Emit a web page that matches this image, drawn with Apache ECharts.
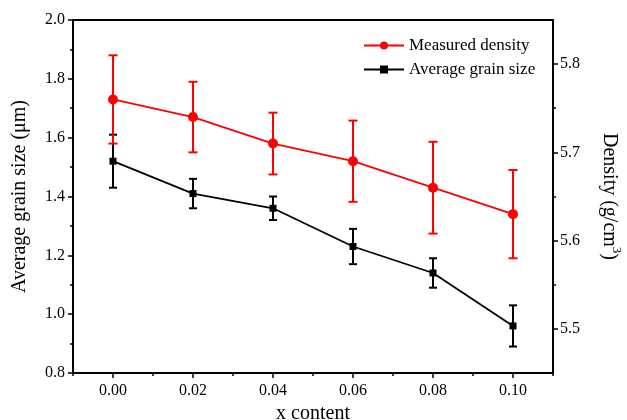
<!DOCTYPE html>
<html>
<head>
<meta charset="utf-8">
<script src="https://cdn.jsdelivr.net/npm/echarts@6/dist/echarts.min.js"></script>
<style>html,body{margin:0;padding:0;background:#fff;}#c{width:627px;height:420px;}</style>
</head>
<body>
<div id="c"></div>
<script>
const xContent = [0.00, 0.02, 0.04, 0.06, 0.08, 0.10];
const density = [5.76, 5.74, 5.71, 5.69, 5.66, 5.63];
const densityErr = [0.05, 0.04, 0.035, 0.046, 0.052, 0.05];
const grainSize = [1.52, 1.41, 1.36, 1.23, 1.14, 0.96];
const grainErr = [0.09, 0.05, 0.04, 0.06, 0.05, 0.07];
const xTicks = [0.00, 0.02, 0.04, 0.06, 0.08, 0.10];
const xMinorTicks = [-0.01, 0.01, 0.03, 0.05, 0.07, 0.09, 0.11];
const densityTicks = [5.5, 5.6, 5.7, 5.8];
const densityMinorTicks = [5.55, 5.65, 5.75];

const FONT = "'Liberation Serif', 'Times New Roman', serif";
const RED = '#ff0000';
const BLACK = '#000000';

function errData(vals, errs) {
  return xContent.map((x, i) => [x, vals[i] - errs[i], vals[i] + errs[i]]);
}
function errRender(color, half) {
  return function (params, api) {
    const x = api.value(0);
    const lo = api.coord([x, api.value(1)]);
    const hi = api.coord([x, api.value(2)]);
    const st = { stroke: color, lineWidth: 2 };
    return {
      type: 'group',
      children: [
        { type: 'line', shape: { x1: lo[0], y1: lo[1], x2: hi[0], y2: hi[1] }, style: st },
        { type: 'line', shape: { x1: lo[0] - half, y1: lo[1], x2: lo[0] + half, y2: lo[1] }, style: st },
        { type: 'line', shape: { x1: hi[0] - half, y1: hi[1], x2: hi[0] + half, y2: hi[1] }, style: st }
      ]
    };
  };
}

const axisLine = { show: true, onZero: false, lineStyle: { color: BLACK, width: 2 } };
const noLine = { show: false, onZero: false };

const chart = echarts.init(document.getElementById('c'));
chart.setOption({
  animation: false,
  backgroundColor: '#fff',
  textStyle: { fontFamily: FONT },
  grid: { left: 73, right: 74, top: 20, bottom: 47, show: true, borderColor: BLACK, borderWidth: 2, outerBoundsMode: 'none', containLabel: false },
  legend: {
    orient: 'vertical', left: 363, top: 37, padding: 0, itemWidth: 40, itemHeight: 10, itemGap: 7,
    textStyle: { fontFamily: FONT, fontSize: 17, color: BLACK },
    data: ['Measured density', 'Average grain size']
  },
  xAxis: [
    {
      type: 'value', min: -0.01, max: 0.11, position: 'bottom',
      axisLine: axisLine,
      axisTick: { show: true, inside: false, length: 5, customValues: xTicks, lineStyle: { color: BLACK, width: 1.5 } },
      axisLabel: { customValues: xTicks, formatter: v => v.toFixed(2), fontFamily: FONT, fontSize: 16, color: BLACK, margin: 10 },
      splitLine: { show: false },
      name: 'x content', nameLocation: 'middle', nameGap: 27,
      nameTextStyle: { fontFamily: FONT, fontSize: 20, color: BLACK }
    },
    {
      type: 'value', min: -0.01, max: 0.11, position: 'bottom',
      axisLine: noLine,
      axisTick: { show: true, length: 3, customValues: xMinorTicks, lineStyle: { color: BLACK, width: 1.5 } },
      axisLabel: { show: false },
      splitLine: { show: false }
    }
  ],
  yAxis: [
    {
      type: 'value', min: 0.8, max: 2.0, interval: 0.2, position: 'left',
      axisLine: axisLine,
      axisTick: { show: true, length: 5, lineStyle: { color: BLACK, width: 1.5 } },
      minorTick: { show: true, splitNumber: 2, length: 3, lineStyle: { color: BLACK, width: 1.5 } },
      axisLabel: { formatter: v => v.toFixed(1), fontFamily: FONT, fontSize: 16, color: BLACK, margin: 8 },
      splitLine: { show: false },
      name: 'Average grain size (\u03bcm)', nameLocation: 'middle', nameGap: 43,
      nameTextStyle: { fontFamily: FONT, fontSize: 20, color: BLACK }
    },
    {
      type: 'value', min: 5.45, max: 5.85, position: 'right',
      axisLine: axisLine,
      axisTick: { show: true, length: 5, customValues: densityTicks, lineStyle: { color: BLACK, width: 1.5 } },
      axisLabel: { customValues: densityTicks, formatter: v => v.toFixed(1), fontFamily: FONT, fontSize: 16, color: BLACK, margin: 7 },
      splitLine: { show: false },
      name: '{n|Density (g/cm}{s|3}{n|)}', nameLocation: 'middle', nameGap: 42, nameRotate: -90,
      nameTextStyle: {
        fontFamily: FONT, fontSize: 20, color: BLACK,
        rich: {
          n: { fontFamily: FONT, fontSize: 20, color: BLACK, lineHeight: 28 },
          s: { fontFamily: FONT, fontSize: 13, color: BLACK, verticalAlign: 'top', lineHeight: 28 }
        }
      }
    },
    {
      type: 'value', min: 5.45, max: 5.85, position: 'right',
      axisLine: noLine,
      axisTick: { show: true, length: 3, customValues: densityMinorTicks, lineStyle: { color: BLACK, width: 1.5 } },
      axisLabel: { show: false },
      splitLine: { show: false }
    }
  ],
  series: [
    {
      name: 'Average grain size', type: 'line', xAxisIndex: 0, yAxisIndex: 0,
      data: xContent.map((x, i) => [x, grainSize[i]]),
      symbol: 'rect', symbolSize: 7, showSymbol: true,
      lineStyle: { color: BLACK, width: 1.8 }, itemStyle: { color: BLACK }, z: 3
    },
    {
      name: 'Average grain size', type: 'custom', xAxisIndex: 0, yAxisIndex: 0,
      data: errData(grainSize, grainErr), renderItem: errRender(BLACK, 4), z: 2
    },
    {
      name: 'Measured density', type: 'line', xAxisIndex: 0, yAxisIndex: 1,
      data: xContent.map((x, i) => [x, density[i]]),
      symbol: 'circle', symbolSize: 10, showSymbol: true,
      lineStyle: { color: RED, width: 1.8 }, itemStyle: { color: RED }, z: 5
    },
    {
      name: 'Measured density', type: 'custom', xAxisIndex: 0, yAxisIndex: 1,
      data: errData(density, densityErr), renderItem: errRender(RED, 4.5), z: 4
    }
  ]
});
</script>
</body>
</html>
